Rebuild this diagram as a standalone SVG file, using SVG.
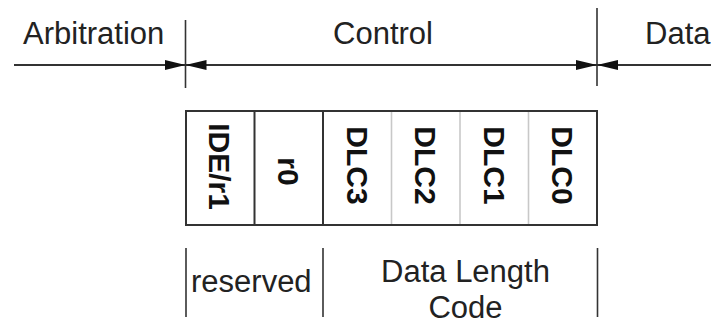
<svg xmlns="http://www.w3.org/2000/svg" width="711" height="332" viewBox="0 0 711 332">
  <defs>
    <marker id="head" markerUnits="userSpaceOnUse" markerWidth="22" markerHeight="12" viewBox="0 0 22 12" refX="21" refY="6" orient="auto-start-reverse">
      <path d="M0,1 L21,6 L0,11 Z" fill="#111"/>
    </marker>
    <style>
      .lbl { font-family: "Liberation Sans", Arial, sans-serif; font-size: 31px; fill: #222; }
      .bit { font-family: "Liberation Sans", Arial, sans-serif; font-size: 30px; font-weight: bold; fill: #111; }
      .tick { stroke: #333; stroke-width: 1.6; fill: none; }
      .span { stroke: #333; stroke-width: 2; fill: none; }
      .cell { fill: #fff; stroke: none; }
      .div-dark { stroke: #333; stroke-width: 2; }
      .div-light { stroke: #c8c8c8; stroke-width: 1.6; }
    </style>
  </defs>
  <rect width="711" height="332" fill="#fff"/>

  <!-- field names across the top -->
  <g id="field-arbitration">
    <text class="lbl" x="23" y="44">Arbitration</text>
  </g>
  <g id="field-control">
    <text class="lbl" x="383" y="44" text-anchor="middle">Control</text>
  </g>
  <g id="field-data">
    <text class="lbl" x="645" y="44">Data</text>
  </g>

  <!-- boundary ticks and span arrows -->
  <g id="connectors">
    <line class="tick" x1="185.5" y1="20" x2="185.5" y2="88"/>
    <line class="tick" x1="597" y1="8" x2="597" y2="86"/>
    <path class="span" d="M14,65 H185.5" marker-end="url(#head)"/>
    <path class="span" d="M185.5,65 H597" marker-start="url(#head)" marker-end="url(#head)"/>
    <path class="span" d="M597,65 H711" marker-start="url(#head)"/>
    <!-- group brackets below the bits -->
    <line class="tick" x1="186" y1="248" x2="186" y2="317"/>
    <line class="tick" x1="323" y1="248" x2="323" y2="317"/>
    <line class="tick" x1="597.5" y1="248" x2="597.5" y2="317"/>
  </g>

  <!-- control field bits -->
  <g id="bits">
    <rect class="cell" x="186" y="111" width="411" height="114"/>
    <line class="div-light" x1="391.5" y1="111" x2="391.5" y2="225"/>
    <line class="div-light" x1="460" y1="111" x2="460" y2="225"/>
    <line class="div-light" x1="528.5" y1="111" x2="528.5" y2="225"/>
    <line class="div-dark" x1="254.5" y1="111" x2="254.5" y2="225"/>
    <line class="div-dark" x1="323" y1="111" x2="323" y2="225"/>
    <rect x="186" y="111" width="411" height="114" fill="none" stroke="#333" stroke-width="2"/>
  </g>
  <g id="bit-ide">
    <text class="bit" transform="translate(219.5,166.5) rotate(90)" text-anchor="middle" dominant-baseline="central">IDE/r1</text>
  </g>
  <g id="bit-r0">
    <text class="bit" transform="translate(288.5,171.5) rotate(90)" text-anchor="middle" dominant-baseline="central">r0</text>
  </g>
  <g id="bit-dlc3">
    <text class="bit" transform="translate(357,165.5) rotate(90)" text-anchor="middle" dominant-baseline="central">DLC3</text>
  </g>
  <g id="bit-dlc2">
    <text class="bit" transform="translate(425.5,165.5) rotate(90)" text-anchor="middle" dominant-baseline="central">DLC2</text>
  </g>
  <g id="bit-dlc1">
    <text class="bit" transform="translate(494,165.5) rotate(90)" text-anchor="middle" dominant-baseline="central">DLC1</text>
  </g>
  <g id="bit-dlc0">
    <text class="bit" transform="translate(562.5,165.5) rotate(90)" text-anchor="middle" dominant-baseline="central">DLC0</text>
  </g>

  <!-- group captions -->
  <g id="group-reserved">
    <text class="lbl" x="191" y="292">reserved</text>
  </g>
  <g id="group-dlc">
    <text class="lbl" x="465.5" y="282" text-anchor="middle">Data Length</text>
    <text class="lbl" x="465.5" y="318" text-anchor="middle">Code</text>
  </g>
</svg>
